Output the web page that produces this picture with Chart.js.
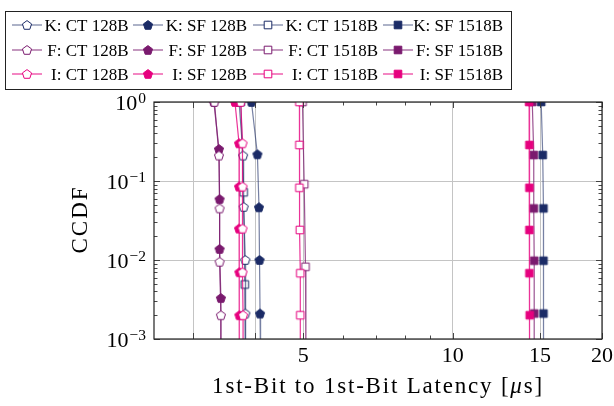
<!DOCTYPE html>
<html><head><meta charset="utf-8">
<script src="https://cdn.jsdelivr.net/npm/chart.js@4.4.1/dist/chart.umd.min.js"></script>
<style>html,body{margin:0;padding:0;background:#fff}#wrap{width:614px;height:406px}</style>
</head><body><div id="wrap"><canvas id="c" width="614" height="406"></canvas></div>
<script>
// ---- data (latency in µs, CCDF) ----
const seriesNames = ['K: CT 128B','K: SF 128B','K: CT 1518B','K: SF 1518B',
                     'F: CT 128B','F: SF 128B','F: CT 1518B','F: SF 1518B',
                     'I: CT 128B','I: SF 128B','I: CT 1518B','I: SF 1518B'];
const kCT128_x  = [3.71, 3.78, 3.79, 3.82, 3.82, 3.83];
const kCT128_y  = [1, 0.21, 0.047, 0.010, 0.0021, 0.0004];
const kSF128_x  = [3.93, 4.04, 4.07, 4.08, 4.09, 4.10];
const kSF128_y  = [1, 0.218, 0.0465, 0.010, 0.0021, 0.0004];
const kCT1518_x = [3.74, 3.79, 3.81, 3.82];
const kCT1518_y = [1, 0.072, 0.0049, 0.0004];
const kSF1518_x = [15.08, 15.19, 15.24, 15.24, 15.24, 15.26];
const kSF1518_y = [1, 0.213, 0.045, 0.0098, 0.0021, 0.0004];
const fCT128_x  = [3.31, 3.38, 3.39, 3.39, 3.41, 3.41];
const fCT128_y  = [1, 0.21, 0.045, 0.0095, 0.002, 0.0004];
const fSF128_x  = [3.30, 3.38, 3.39, 3.39, 3.41, 3.41];
const fSF128_y  = [1, 0.254, 0.059, 0.0138, 0.0033, 0.0004];
const fCT1518_x = [4.98, 5.02, 5.05, 5.06];
const fCT1518_y = [1, 0.091, 0.0082, 0.0004];
const fSF1518_x = [14.47, 14.57, 14.57, 14.60, 14.60, 14.60];
const fSF1518_y = [1, 0.213, 0.045, 0.0098, 0.0021, 0.0004];
const iCT128_x  = [3.74, 3.77, 3.77, 3.77, 3.77, 3.78, 3.78];
const iCT128_y  = [1, 0.30, 0.085, 0.025, 0.007, 0.002, 0.0004];
const iSF128_x  = [3.64, 3.71, 3.71, 3.71, 3.715, 3.715, 3.72];
const iSF128_y  = [1, 0.30, 0.085, 0.025, 0.007, 0.002, 0.0004];
const iCT1518_x = [4.91, 4.91, 4.91, 4.92, 4.93, 4.93, 4.93];
const iCT1518_y = [1, 0.286, 0.082, 0.024, 0.0068, 0.002, 0.0004];
const iSF1518_x = [14.26, 14.28, 14.28, 14.28, 14.28, 14.30, 14.31];
const iSF1518_y = [1, 0.286, 0.082, 0.024, 0.0068, 0.002, 0.0004];

const xGridTicks = [3, 4, 5, 10, 15, 20];
const xMinorTicks = [6, 7, 8, 9];
const xTickLabels = ['5', '10', '15', '20'];
const xTickLabelVals = [5, 10, 15, 20];
const yTickVals = [1, 0.1, 0.01, 0.001];
const yTickExps = ['0', '\u22121', '\u22122', '\u22123'];

// ---- styles ----
const NAVY = '#1b2b66', PURP = '#7a1a6e', PINK = '#e6007e';
const LNAVY = 'rgba(27,43,102,0.6)', LPURP = 'rgba(122,26,110,0.75)', LPINK = 'rgba(230,0,126,0.8)';
const SERIF = '"Liberation Serif", "DejaVu Serif", serif';

function marker(shape, color, filled) {
  const S = 12, c = document.createElement('canvas');
  c.width = S; c.height = S;
  const g = c.getContext('2d');
  g.translate(S / 2, S / 2);
  g.beginPath();
  if (shape === 'pent') {
    const R = 4.8;
    for (let k = 0; k < 5; k++) {
      const a = -Math.PI / 2 + k * 2 * Math.PI / 5;
      const px = R * Math.cos(a), py = R * Math.sin(a) + 0.4;
      k ? g.lineTo(px, py) : g.moveTo(px, py);
    }
    g.closePath();
  } else {
    const h = 3.8;
    g.rect(-h, -h, 2 * h, 2 * h);
  }
  g.fillStyle = filled ? color : '#fff';
  g.fill();
  g.lineWidth = 1;
  g.strokeStyle = color;
  g.stroke();
  return c;
}

const xs = [kCT128_x, kSF128_x, kCT1518_x, kSF1518_x, fCT128_x, fSF128_x, fCT1518_x, fSF1518_x, iCT128_x, iSF128_x, iCT1518_x, iSF1518_x];
const ys = [kCT128_y, kSF128_y, kCT1518_y, kSF1518_y, fCT128_y, fSF128_y, fCT1518_y, fSF1518_y, iCT128_y, iSF128_y, iCT1518_y, iSF1518_y];
const cols = [NAVY, PURP, PINK], lcols = [LNAVY, LPURP, LPINK];
const shapes = [['pent', false], ['pent', true], ['sq', false], ['sq', true]];

const datasets = seriesNames.map((name, i) => {
  const grp = Math.floor(i / 4), sh = shapes[i % 4];
  const img = marker(sh[0], cols[grp], sh[1]);
  const n = xs[i].length;
  return {
    label: name,
    data: xs[i].map((x, j) => ({ x, y: ys[i][j] })),
    borderColor: lcols[grp],
    backgroundColor: cols[grp],
    borderWidth: 1.2,
    pointStyle: img,
    pointRadius: xs[i].map((_, j) => j === n - 1 ? 0 : 5),
    tension: 0,
    order: 2 - grp,
    _marker: img,
    _line: lcols[grp]
  };
});

function spaced(ctx, px) { if ('letterSpacing' in ctx) ctx.letterSpacing = px + 'px'; }

const decor = {
  id: 'decor',
  afterDraw(chart) {
    const ctx = chart.ctx, a = chart.chartArea;
    const sx = chart.scales.x, sy = chart.scales.y;
    ctx.save();
    // minor & major ticks
    ctx.strokeStyle = '#333';
    ctx.lineWidth = 0.9;
    ctx.beginPath();
    for (let e = -3; e < 0; e++) {
      for (let m = 2; m <= 9; m++) {
        const py = Math.round(sy.getPixelForValue(m * Math.pow(10, e))) + 0.5;
        ctx.moveTo(a.left, py); ctx.lineTo(a.left + 3.5, py);
        ctx.moveTo(a.right, py); ctx.lineTo(a.right - 3.5, py);
      }
    }
    for (const v of yTickVals) {
      const py = Math.round(sy.getPixelForValue(v)) + 0.5;
      ctx.moveTo(a.left, py); ctx.lineTo(a.left + 6, py);
      ctx.moveTo(a.right, py); ctx.lineTo(a.right - 6, py);
    }
    for (const v of xMinorTicks) {
      const px = Math.round(sx.getPixelForValue(v)) + 0.5;
      ctx.moveTo(px, a.bottom); ctx.lineTo(px, a.bottom - 3.5);
      ctx.moveTo(px, a.top); ctx.lineTo(px, a.top + 3.5);
    }
    for (const v of xGridTicks) {
      const px = Math.round(sx.getPixelForValue(v)) + 0.5;
      ctx.moveTo(px, a.bottom); ctx.lineTo(px, a.bottom - 6);
      ctx.moveTo(px, a.top); ctx.lineTo(px, a.top + 6);
    }
    ctx.stroke();
    // frame
    ctx.strokeStyle = '#222';
    ctx.lineWidth = 1.2;
    ctx.strokeRect(a.left, a.top, a.right - a.left, a.bottom - a.top);

    // tick labels
    ctx.fillStyle = '#000';
    ctx.textBaseline = 'alphabetic';
    ctx.textAlign = 'center';
    ctx.font = '22px ' + SERIF;
    xTickLabelVals.forEach((v, k) => {
      ctx.fillText(xTickLabels[k], sx.getPixelForValue(v), 362);
    });
    ctx.textAlign = 'left';
    yTickVals.forEach((v, k) => {
      const py = sy.getPixelForValue(v);
      ctx.font = '15.5px ' + SERIF;
      const sw = ctx.measureText(yTickExps[k]).width;
      ctx.font = '22px ' + SERIF;
      const bw = ctx.measureText('10').width;
      const x0 = 146 - sw - bw - 1;
      ctx.fillText('10', x0, py + 8);
      ctx.font = '15.5px ' + SERIF;
      ctx.fillText(yTickExps[k], x0 + bw + 1, py + 0.5);
    });

    // axis titles
    ctx.font = '23px ' + SERIF;
    spaced(ctx, 2);
    ctx.save();
    ctx.translate(81, (a.top + a.bottom) / 2);
    ctx.rotate(-Math.PI / 2);
    ctx.textAlign = 'center';
    ctx.textBaseline = 'middle';
    ctx.fillText('CCDF', 1, 0);
    ctx.restore();

    spaced(ctx, 1.8);
    const parts = [['1st-Bit to 1st-Bit Latency [', 'normal'], ['\u03bc', 'italic'], ['s]', 'normal']];
    let tw = 0;
    const ws = parts.map(p => { ctx.font = p[1] + ' 23px ' + SERIF; const w = ctx.measureText(p[0]).width; tw += w; return w; });
    let cx = (a.left + a.right) / 2 - tw / 2;
    ctx.textAlign = 'left';
    ctx.textBaseline = 'alphabetic';
    parts.forEach((p, k) => { ctx.font = p[1] + ' 23px ' + SERIF; ctx.fillText(p[0], cx, 393); cx += ws[k]; });
    spaced(ctx, 0);

    // legend
    ctx.strokeStyle = '#222';
    ctx.lineWidth = 1;
    ctx.strokeRect(5.5, 11.5, 506, 78);
    const rowsY = [25, 50, 74];
    const colLineX = [12, 133, 253, 383];
    const colTextEnd = [128.5, 247, 378, 503];
    ctx.font = '17px ' + SERIF;
    ctx.textAlign = 'right';
    ctx.textBaseline = 'alphabetic';
    chart.data.datasets.forEach((ds, i) => {
      const r = Math.floor(i / 4), c = i % 4;
      const y = rowsY[r], x0 = colLineX[c];
      ctx.strokeStyle = ds._line;
      ctx.lineWidth = 1.2;
      ctx.beginPath(); ctx.moveTo(x0, y); ctx.lineTo(x0 + 30, y); ctx.stroke();
      ctx.drawImage(ds._marker, x0 + 15 - 6, y - 6);
      ctx.fillStyle = '#000';
      ctx.fillText(ds.label, colTextEnd[c], y + 6);
    });
    ctx.restore();
  }
};

new Chart(document.getElementById('c'), {
  type: 'line',
  data: { datasets },
  options: {
    responsive: false,
    animation: false,
    layout: { padding: { top: 102, right: 12, bottom: 0, left: 0 } },
    plugins: { legend: { display: false }, tooltip: { enabled: false } },
    scales: {
      x: {
        type: 'logarithmic', min: 2.5, max: 20,
        afterBuildTicks: s => { s.ticks = xGridTicks.map(v => ({ value: v })); },
        ticks: { display: false },
        grid: { color: '#c4c4c4', lineWidth: 1, drawTicks: false },
        border: { display: false },
        afterFit: s => { s.height = 67; }
      },
      y: {
        type: 'logarithmic', min: 0.001, max: 1,
        afterBuildTicks: s => { s.ticks = yTickVals.map(v => ({ value: v })); },
        ticks: { display: false },
        grid: { color: '#c4c4c4', lineWidth: 1, drawTicks: false },
        border: { display: false },
        afterFit: s => { s.width = 154; }
      }
    }
  },
  plugins: [decor]
});
</script>
</body></html>
